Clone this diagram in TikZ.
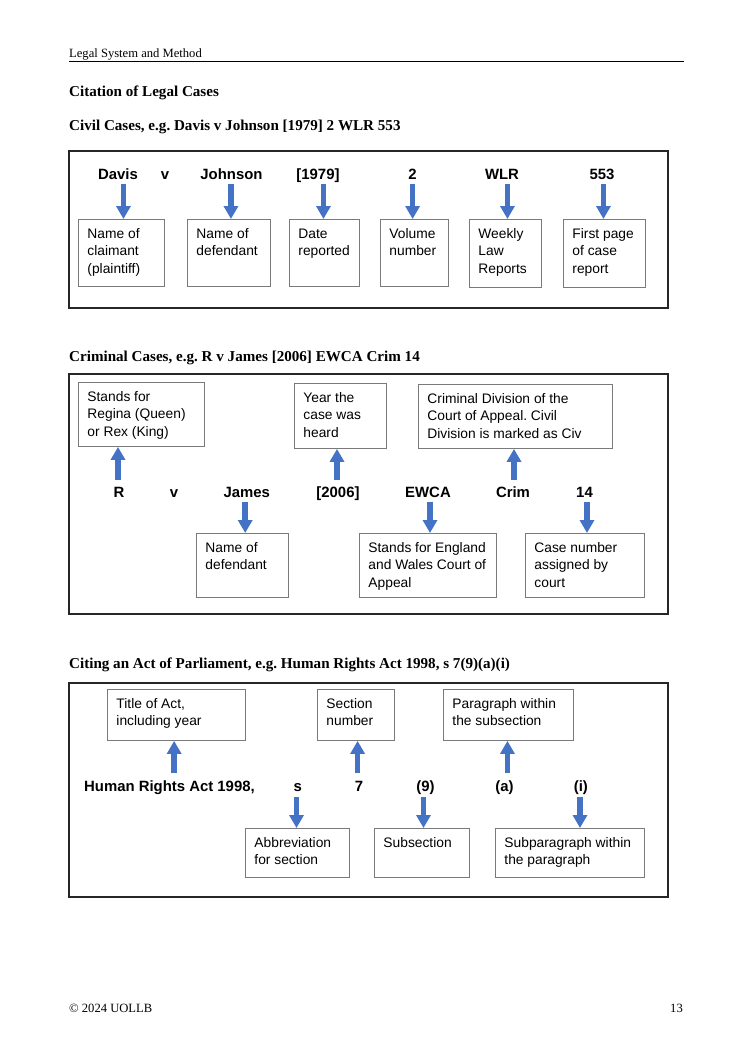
\documentclass[tikz,border=0pt]{standalone}
\usepackage{fontspec}
\setmainfont{Liberation Serif}
\setsansfont{Liberation Sans}
\usetikzlibrary{arrows.meta,calc}
\frenchspacing
\definecolor{arrblue}{HTML}{4472C4}
\definecolor{boxgray}{HTML}{7A7A7A}
\newcommand{\mybox}[6]{%
  \pgfmathsetmacro\bw{#4-#2}\pgfmathsetmacro\bh{#5-#3}%
  \node[tbox, anchor=north west] (#1) at (#2,-#3)
    {\parbox[c][\bh pt][t]{\bw pt}{\vspace*{7pt}\raggedright\leftskip=9pt\strut #6}};}
\begin{document}
\begin{tikzpicture}[x=1pt,y=1pt,
  tbox/.style={draw=boxgray, line width=0.9pt, inner sep=0pt,
    font=\sffamily\fontsize{13.8}{17.3}\selectfont},
  lbl/.style={anchor=base, inner sep=0pt, font=\sffamily\bfseries\fontsize{14.9}{17}\selectfont},
  frame/.style={draw=black!85, line width=1.3pt},
  arr/.style={draw=arrblue, line width=5.5pt, -{Triangle[width=14pt,length=13pt]}},
  head/.style={anchor=base west, inner sep=0pt, font=\bfseries\fontsize{15.1}{18}\selectfont},
  small/.style={inner sep=0pt, font=\fontsize{12.6}{15}\selectfont}]
\useasboundingbox (0,0) rectangle (750,-1061);

% page header
\node[small, anchor=base west] (hdr) at (69,-57.3) {Legal System and Method};
\draw[line width=1pt] (69,-61) -- (684,-61);

\node[head] (t0) at (69,-96) {Citation of Legal Cases};
\node[head] (t1) at (69,-130) {Civil Cases, e.g. Davis v Johnson [1979] 2 WLR 553};
\node[head] (t2) at (69,-361) {Criminal Cases, e.g. R v James [2006] EWCA Crim 14};
\node[head] (t3) at (69,-668) {Citing an Act of Parliament, e.g. Human Rights Act 1998, s 7(9)(a)(i)};

% ---------------- Civil
\draw[frame] (69,-151) rectangle (668,-308);
\node[lbl] (davis) at (118,-179.5) {Davis};
\node[lbl] (cv) at (165,-179.5) {v};
\node[lbl] (johnson) at (231.5,-179.5) {Johnson};
\node[lbl] (y1979) at (318,-179.5) {[1979]};
\node[lbl] (vol) at (412.6,-179.5) {2};
\node[lbl] (wlr) at (502,-179.5) {WLR};
\node[lbl] (p553) at (602,-179.5) {553};

\mybox{c1}{78}{219}{164}{286}{Name of\\claimant\\(plaintiff)}
\mybox{c2}{187}{219}{270}{286}{Name of\\defendant}
\mybox{c3}{289}{219}{359}{286}{Date\\reported}
\mybox{c4}{380}{219}{448}{286}{Volume\\number}
\mybox{c5}{469}{219}{541}{287}{Weekly\\Law\\Reports}
\mybox{c6}{563}{219}{645}{287}{First page\\of case\\report}

\draw[arr] ($(c1.north |- davis.base)+(2,-4.5)$) -- ($(c1.north)+(2,0)$);
\draw[arr] ($(c2.north |- johnson.base)+(2,-4.5)$) -- ($(c2.north)+(2,0)$);
\draw[arr] ($(c3.north |- y1979.base)+(-1,-4.5)$) -- ($(c3.north)+(-1,0)$);
\draw[arr] ($(vol.base)+(0,-4.5)$) -- (vol.base |- c4.north);
\draw[arr] ($(c5.north |- wlr.base)+(2,-4.5)$) -- ($(c5.north)+(2,0)$);
\draw[arr] ($(c6.north |- p553.base)+(-1,-4.5)$) -- ($(c6.north)+(-1,0)$);

% ---------------- Criminal
\draw[frame] (69,-374) rectangle (668,-614);
\mybox{k1}{78}{382}{204}{446}{Stands for\\Regina (Queen)\\or Rex (King)}
\mybox{k2}{294}{383}{386}{448}{Year the\\case was\\heard}
\mybox{k3}{418}{384}{612}{448}{Criminal Division of the\\Court of Appeal. Civil\\Division is marked as Civ}

\node[lbl] (r) at (119,-497) {R};
\node[lbl] (kv) at (174,-497) {v};
\node[lbl] (james) at (246.7,-497) {James};
\node[lbl] (y2006) at (338,-497) {[2006]};
\node[lbl] (ewca) at (428,-497) {EWCA};
\node[lbl] (crim) at (513,-497) {Crim};
\node[lbl] (n14) at (584.5,-497) {14};

\mybox{k4}{196}{533}{288}{597}{Name of\\defendant}
\mybox{k5}{359}{533}{496}{597}{Stands for England\\and Wales Court of\\Appeal}
\mybox{k6}{525}{533}{644}{597}{Case number\\assigned by\\court}

\draw[arr] ($(r.base)+(-1,17.5)$) -- ($(r.base |- k1.south)+(-1,0)$);
\draw[arr] ($(y2006.base)+(-1,17.5)$) -- ($(y2006.base |- k2.south)+(-1,0)$);
\draw[arr] ($(crim.base)+(1,17.5)$) -- ($(crim.base |- k3.south)+(1,0)$);
\draw[arr] ($(james.base)+(-1.5,-4.7)$) -- ($(james.base |- k4.north)+(-1.5,0)$);
\draw[arr] ($(ewca.base)+(2,-4.7)$) -- ($(ewca.base |- k5.north)+(2,0)$);
\draw[arr] ($(n14.base)+(2.5,-4.7)$) -- ($(n14.base |- k6.north)+(2.5,0)$);

% ---------------- Act
\draw[frame] (69,-683) rectangle (668,-897);
\mybox{a1}{107}{689}{245}{740}{Title of Act,\\including year}
\mybox{a2}{317}{689}{394}{740}{Section\\number}
\mybox{a3}{443}{689}{573}{740}{Paragraph within\\the subsection}

\node[lbl, anchor=base west] (hra) at (84,-791.3) {Human Rights Act 1998,};
\node[lbl] (s) at (297.8,-791.3) {s};
\node[lbl] (n7) at (359,-791.3) {7};
\node[lbl] (n9) at (425.5,-791.3) {(9)};
\node[lbl] (pa) at (504.6,-791.3) {(a)};
\node[lbl] (pi) at (580.9,-791.3) {(i)};

\mybox{a4}{245}{828}{349}{877}{Abbreviation\\for section}
\mybox{a5}{374}{828}{469}{877}{Subsection}
\mybox{a6}{495}{828}{644}{877}{Subparagraph within\\the paragraph}

\draw[arr] ($(a1.south |- hra.base)+(-2.3,18.3)$) -- ($(a1.south)+(-2.3,0)$);
\draw[arr] ($(n7.base)+(-1.4,18.3)$) -- ($(n7.base |- a2.south)+(-1.4,0)$);
\draw[arr] ($(a3.south |- pa.base)+(-1,18.3)$) -- ($(a3.south)+(-1,0)$);
\draw[arr] ($(s.base)+(-1.3,-5.7)$) -- ($(s.base |- a4.north)+(-1.3,0)$);
\draw[arr] ($(n9.base)+(-2,-5.7)$) -- ($(n9.base |- a5.north)+(-2,0)$);
\draw[arr] ($(pi.base)+(-0.9,-5.7)$) -- ($(pi.base |- a6.north)+(-0.9,0)$);

% footer
\node[small, anchor=base west] (ftl) at (69,-1012) {© 2024 UOLLB};
\node[small, anchor=base east] (ftr) at (683,-1012) {13};
\end{tikzpicture}
\end{document}
